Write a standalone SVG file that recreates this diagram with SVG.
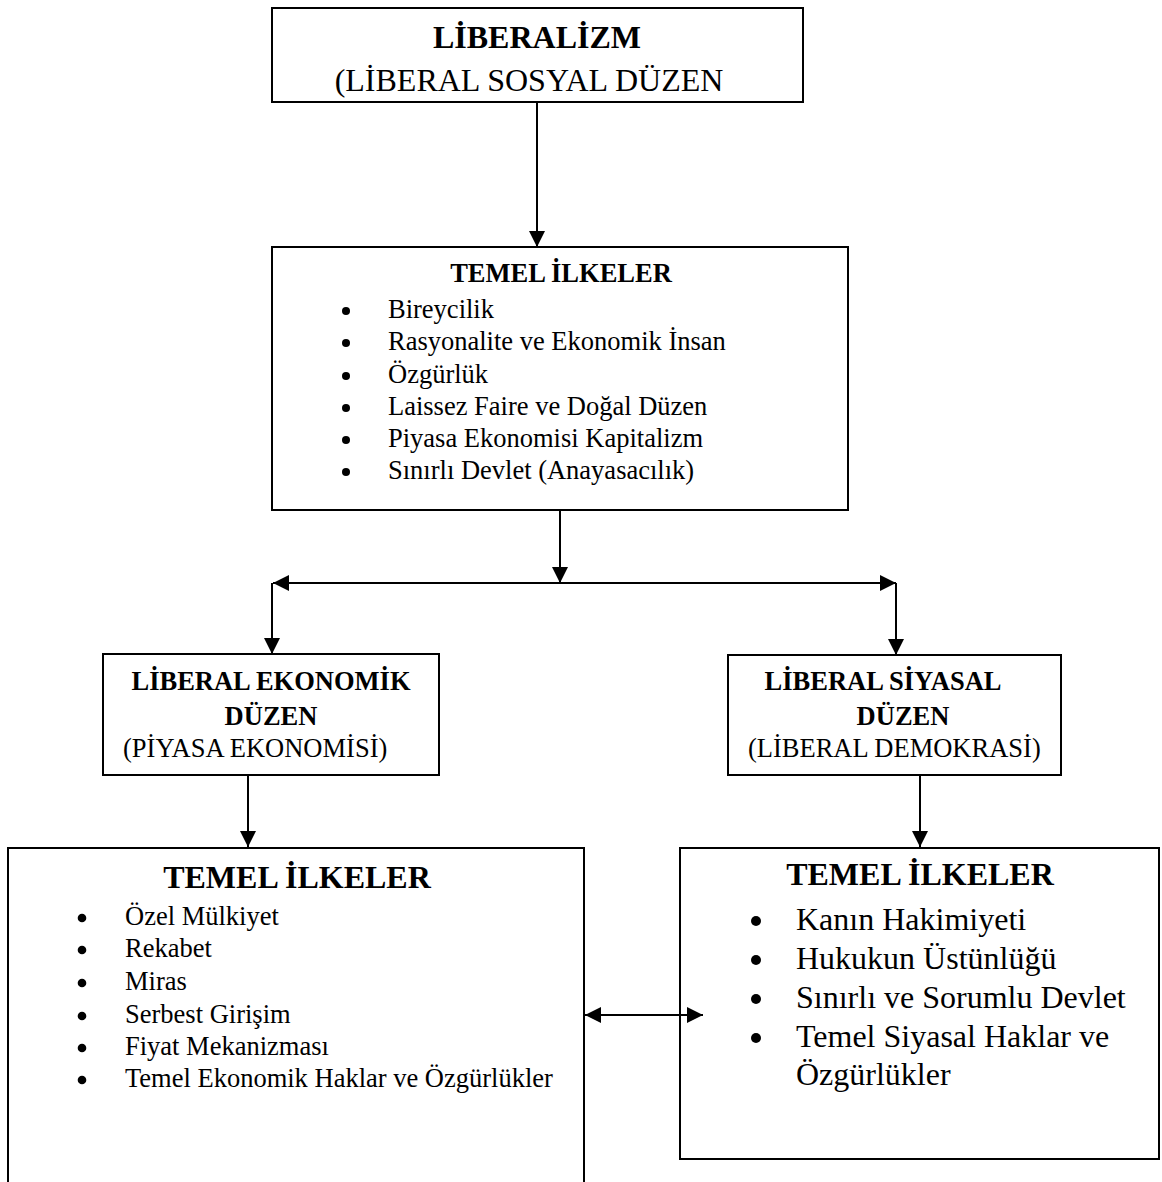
<svg xmlns="http://www.w3.org/2000/svg" width="1162" height="1182" viewBox="0 0 1162 1182">
<style>
.box{fill:#fff;stroke:#000;stroke-width:2}
.t{font-family:"Liberation Serif","Times New Roman",serif;fill:#000}
.b{font-weight:bold}
.s26{font-size:26.5px}
.s32{font-size:32px}
.c{text-anchor:middle}
.ln{stroke:#000;stroke-width:2;fill:none}
.dot{fill:#000}
</style>
<defs>
<marker id="ah" viewBox="0 0 16 16" refX="16" refY="8" markerWidth="16" markerHeight="16" markerUnits="userSpaceOnUse" orient="auto-start-reverse">
<path d="M0,0 L16,8 L0,16 z" fill="#000"/>
</marker>
</defs>
<rect width="1162" height="1182" fill="#fff"/>

<g id="liberalizm">
<rect class="box" x="272" y="8" width="531" height="94"/>
<text class="t b s32 c" x="537" y="48">LİBERALİZM</text>
<text class="t s32 c" x="529" y="91">(LİBERAL SOSYAL DÜZEN</text>
</g>

<g id="temel-ilkeler">
<rect class="box" x="272" y="247" width="576" height="263"/>
<text class="t b s26 c" x="561" y="282">TEMEL İLKELER</text>
<circle class="dot" cx="346" cy="311" r="4"/>
<text class="t s26" x="388" y="318">Bireycilik</text>
<circle class="dot" cx="346" cy="343" r="4"/>
<text class="t s26" x="388" y="350">Rasyonalite ve Ekonomik İnsan</text>
<circle class="dot" cx="346" cy="376" r="4"/>
<text class="t s26" x="388" y="383">Özgürlük</text>
<circle class="dot" cx="346" cy="408" r="4"/>
<text class="t s26" x="388" y="415">Laissez Faire ve Doğal Düzen</text>
<circle class="dot" cx="346" cy="440" r="4"/>
<text class="t s26" x="388" y="447">Piyasa Ekonomisi Kapitalizm</text>
<circle class="dot" cx="346" cy="472" r="4"/>
<text class="t s26" x="388" y="479">Sınırlı Devlet (Anayasacılık)</text>
</g>

<g id="liberal-ekonomik">
<rect class="box" x="103" y="654" width="336" height="121"/>
<text class="t b s26 c" x="271" y="690">LİBERAL EKONOMİK</text>
<text class="t b s26 c" x="271" y="725">DÜZEN</text>
<text class="t s26" x="123" y="757">(PİYASA EKONOMİSİ)</text>
</g>

<g id="liberal-siyasal">
<rect class="box" x="728" y="655" width="333" height="120"/>
<text class="t b s26 c" x="883" y="690">LİBERAL SİYASAL</text>
<text class="t b s26 c" x="903" y="725">DÜZEN</text>
<text class="t s26" x="748" y="757">(LİBERAL DEMOKRASİ)</text>
</g>

<g id="ekonomik-ilkeler">
<rect class="box" x="8" y="848" width="576" height="345"/>
<text class="t b s32 c" x="297" y="888">TEMEL İLKELER</text>
<circle class="dot" cx="82" cy="918" r="4.3"/>
<text class="t s26" x="125" y="925">Özel Mülkiyet</text>
<circle class="dot" cx="82" cy="950" r="4.3"/>
<text class="t s26" x="125" y="957">Rekabet</text>
<circle class="dot" cx="82" cy="983" r="4.3"/>
<text class="t s26" x="125" y="990">Miras</text>
<circle class="dot" cx="82" cy="1016" r="4.3"/>
<text class="t s26" x="125" y="1023">Serbest Girişim</text>
<circle class="dot" cx="82" cy="1048" r="4.3"/>
<text class="t s26" x="125" y="1055">Fiyat Mekanizması</text>
<circle class="dot" cx="82" cy="1080" r="4.3"/>
<text class="t s26" x="125" y="1087">Temel Ekonomik Haklar ve Özgürlükler</text>
</g>

<g id="siyasal-ilkeler">
<rect class="box" x="680" y="848" width="479" height="311"/>
<text class="t b s32 c" x="920" y="885">TEMEL İLKELER</text>
<circle class="dot" cx="756" cy="921" r="5"/>
<text class="t s32" x="796" y="930">Kanın Hakimiyeti</text>
<circle class="dot" cx="756" cy="960" r="5"/>
<text class="t s32" x="796" y="969">Hukukun Üstünlüğü</text>
<circle class="dot" cx="756" cy="999" r="5"/>
<text class="t s32" x="796" y="1008">Sınırlı ve Sorumlu Devlet</text>
<circle class="dot" cx="756" cy="1038" r="5"/>
<text class="t s32" x="796" y="1047">Temel Siyasal Haklar ve</text>
<text class="t s32" x="796" y="1085">Özgürlükler</text>
</g>

<g id="connectors">
<line class="ln" x1="537" y1="102" x2="537" y2="247" marker-end="url(#ah)"/>
<line class="ln" x1="560" y1="510" x2="560" y2="583" marker-end="url(#ah)"/>
<line class="ln" x1="273" y1="583" x2="896" y2="583" marker-start="url(#ah)" marker-end="url(#ah)"/>
<line class="ln" x1="272" y1="583" x2="272" y2="654" marker-end="url(#ah)"/>
<line class="ln" x1="896" y1="583" x2="896" y2="655" marker-end="url(#ah)"/>
<line class="ln" x1="248" y1="775" x2="248" y2="847" marker-end="url(#ah)"/>
<line class="ln" x1="920" y1="775" x2="920" y2="847" marker-end="url(#ah)"/>
<line class="ln" x1="585" y1="1015" x2="703" y2="1015" marker-start="url(#ah)" marker-end="url(#ah)"/>
</g>
</svg>
